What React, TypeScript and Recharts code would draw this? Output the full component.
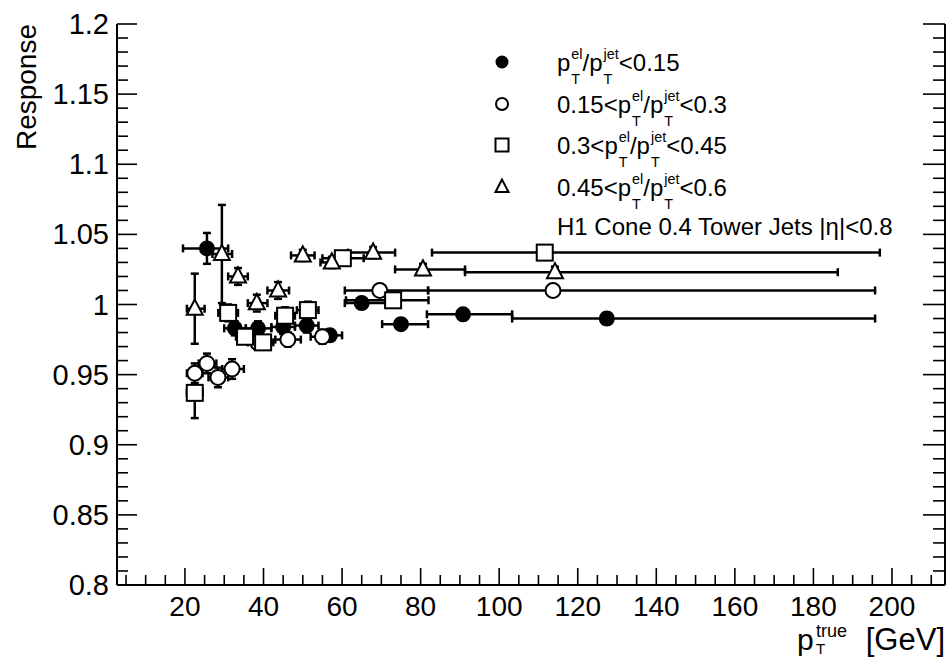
import React from 'react'
import { ScatterChart, Scatter, XAxis, YAxis, ErrorBar, Legend } from 'recharts'

// each point: [pT true, response, pT bin low, pT bin high, response error]
const EL_LT_015 = [
  [25.6, 1.040, 19.5, 31.0, 0.011],
  [32.7, 0.983, 30.0, 35.5, 0.005],
  [38.6, 0.983, 35.5, 42.0, 0.005],
  [45.0, 0.984, 42.0, 48.0, 0.005],
  [51.0, 0.985, 48.0, 54.0, 0.005],
  [56.9, 0.978, 54.0, 60.0, 0.004],
  [65.0, 1.001, 60.7, 71.0, 0.004],
  [75.0, 0.986, 70.2, 81.9, 0.004],
  [90.8, 0.993, 81.6, 103.3, 0.004],
  [127.4, 0.990, 103.3, 195.7, 0.004]
]

const EL_015_03 = [
  [22.5, 0.951, 20.5, 24.5, 0.007],
  [25.6, 0.958, 23.5, 28.0, 0.007],
  [28.4, 0.948, 26.0, 31.0, 0.007],
  [32.0, 0.954, 29.5, 35.0, 0.007],
  [38.5, 0.973, 36.0, 41.0, 0.005],
  [46.2, 0.975, 43.0, 49.5, 0.005],
  [55.0, 0.977, 52.0, 58.0, 0.005],
  [69.6, 1.010, 60.7, 81.9, 0.004],
  [113.7, 1.010, 81.9, 195.7, 0.004]
]

const EL_03_045 = [
  [22.5, 0.937, 20.5, 24.5, 0.018],
  [31.0, 0.994, 28.5, 33.5, 0.006],
  [35.3, 0.977, 33.0, 37.5, 0.005],
  [39.9, 0.973, 37.5, 42.5, 0.005],
  [45.5, 0.992, 43.0, 48.0, 0.006],
  [51.3, 0.996, 48.5, 54.0, 0.006],
  [60.2, 1.033, 55.0, 65.5, 0.004],
  [73.0, 1.003, 61.0, 82.0, 0.004],
  [111.6, 1.037, 82.9, 196.9, 0.004]
]

const EL_045_06 = [
  [22.5, 0.997, 20.5, 25.0, 0.025],
  [29.4, 1.036, 27.0, 32.0, 0.035],
  [33.5, 1.020, 31.0, 36.0, 0.006],
  [38.3, 1.001, 36.0, 41.0, 0.006],
  [43.7, 1.010, 41.0, 46.5, 0.006],
  [50.0, 1.035, 47.0, 53.0, 0.004],
  [57.4, 1.030, 54.5, 60.5, 0.004],
  [67.9, 1.037, 61.5, 73.5, 0.004],
  [80.6, 1.025, 73.5, 91.3, 0.004],
  [114.2, 1.023, 91.3, 186.2, 0.004]
]

const X_LABELS = [20, 40, 60, 80, 100, 120, 140, 160, 180, 200]
const Y_LABELS = [0.8, 0.85, 0.9, 0.95, 1, 1.05, 1.1, 1.15, 1.2]

const X_TICKS: number[] = []
for (let v = 5; v <= 210; v += 5) X_TICKS.push(v)
const Y_TICKS: number[] = []
for (let i = 0; i <= 40; i++) Y_TICKS.push(Math.round((0.8 + i * 0.01) * 100) / 100)

const FONT = '"Liberation Sans", Arial, Helvetica, sans-serif'

const toPoints = (rows: number[][]) =>
  rows.map(([x, y, lo, hi, ey]) => ({ x, y, ex: [x - lo, hi - x], ey }))

const isMajorY = (v: number) => Y_LABELS.some((m) => Math.abs(m - v) < 1e-6)

const BottomTick = (props: any) => {
  const { x, y, payload } = props
  const major = X_LABELS.includes(payload.value)
  return (
    <g>
      <line x1={x} x2={x} y1={y} y2={y - (major ? 17 : 10)} stroke='#000' strokeWidth={1.6} />
      {major ? (
        <text x={x} y={y + 31} textAnchor='middle' fontSize={28} fontFamily={FONT} fill='#000'>
          {payload.value}
        </text>
      ) : null}
    </g>
  )
}

const TopTick = (props: any) => {
  const { x, y, payload } = props
  const major = X_LABELS.includes(payload.value)
  return <line x1={x} x2={x} y1={y} y2={y + (major ? 18 : 10)} stroke='#000' strokeWidth={1.6} />
}

const LeftTick = (props: any) => {
  const { x, y, payload } = props
  const major = isMajorY(payload.value)
  return (
    <g>
      <line x1={x} x2={x + (major ? 20 : 11)} y1={y} y2={y} stroke='#000' strokeWidth={1.6} />
      {major ? (
        <text x={x - 8} y={y + 10} textAnchor='end' fontSize={29} fontFamily={FONT} fill='#000'>
          {String(payload.value)}
        </text>
      ) : null}
    </g>
  )
}

const RightTick = (props: any) => {
  const { x, y, payload } = props
  const major = isMajorY(payload.value)
  return <line x1={x} x2={x - (major ? 22 : 12)} y1={y} y2={y} stroke='#000' strokeWidth={1.6} />
}

const Marker = ({ cx, cy, kind, size = 8 }: any) => {
  if (cx == null || cy == null) return null
  if (kind === 'dot') return <circle cx={cx} cy={cy} r={size} fill='#000' />
  if (kind === 'circle')
    return <circle cx={cx} cy={cy} r={size - 0.5} fill='#fff' stroke='#000' strokeWidth={2} />
  if (kind === 'square')
    return (
      <rect x={cx - size} y={cy - size} width={size * 2} height={size * 2} fill='#fff' stroke='#000' strokeWidth={2} />
    )
  const h = size * 1.9
  return (
    <polygon
      points={`${cx},${cy - h * 0.6} ${cx - size},${cy + h * 0.4} ${cx + size},${cy + h * 0.4}`}
      fill='#fff'
      stroke='#000'
      strokeWidth={2}
    />
  )
}

const SupSub = ({ sup }: { sup: string }) => (
  <span
    style={{
      display: 'inline-flex',
      flexDirection: 'column',
      fontSize: '0.6em',
      verticalAlign: '12px',
      marginLeft: 1,
      color: '#000'
    }}
  >
    <span style={{ lineHeight: '14px' }}>{sup}</span>
    <span style={{ lineHeight: '14px', marginTop: 11 }}>T</span>
  </span>
)

const Ratio = ({ sup }: { sup: string }) => (
  <span>
    p<SupSub sup={sup} />/p<SupSub sup='jet' />
  </span>
)

const LEGEND_ROWS = [
  { kind: 'dot', pre: '', post: '<0.15' },
  { kind: 'circle', pre: '0.15<', post: '<0.3' },
  { kind: 'square', pre: '0.3<', post: '<0.45' },
  { kind: 'triangle', pre: '0.45<', post: '<0.6' }
]

const LegendBox = () => (
  <div style={{ fontFamily: FONT, fontSize: 24, color: '#000', position: 'relative', width: 440 }}>
    {LEGEND_ROWS.map((r, i) => (
      <div key={i} style={{ position: 'absolute', top: i * 41.5, left: 0, height: 42, width: 440 }}>
        <svg width={30} height={42} style={{ position: 'absolute', left: -3, top: 0 }}>
          <Marker cx={15} cy={21} kind={r.kind} size={6.5} />
        </svg>
        <div style={{ position: 'absolute', left: 67, top: 6, whiteSpace: 'nowrap' }}>
          {r.pre}
          <Ratio sup='el' />
          {r.post}
        </div>
      </div>
    ))}
    <div style={{ position: 'absolute', left: 67, top: 4 * 41.5 + 6, whiteSpace: 'nowrap' }}>
      H1 Cone 0.4 Tower Jets |η|&lt;0.8
    </div>
  </div>
)

const XTitle = (props: any) => {
  const vb = props.viewBox || {}
  const right = vb.x + vb.width
  const base = vb.y + 65
  return (
    <g fontFamily={FONT} fill='#000'>
      <text x={right - 148} y={base} fontSize={30}>p</text>
      <text x={right - 129} y={base - 13} fontSize={18}>true</text>
      <text x={right - 129} y={base + 4} fontSize={15}>T</text>
      <text x={right} y={base} fontSize={31} textAnchor='end'>[GeV]</text>
    </g>
  )
}

const YTitle = () => (
  <text
    transform='translate(36, 24) rotate(-90)'
    textAnchor='end'
    fontFamily={FONT}
    fontSize={28}
    fill='#000'
  >
    Response
  </text>
)

const SERIES = [
  { name: 'lt015', rows: EL_LT_015, kind: 'dot' },
  { name: '015_03', rows: EL_015_03, kind: 'circle' },
  { name: '03_045', rows: EL_03_045, kind: 'square' },
  { name: '045_06', rows: EL_045_06, kind: 'triangle' }
]

export default function App() {
  return (
    <div style={{ position: 'absolute', left: 0, top: 0, background: '#fff' }}>
      <ScatterChart width={947} height={658} margin={{ top: 24, right: 0, bottom: 0, left: 0 }}>
        <XAxis
          xAxisId='b'
          type='number'
          dataKey='x'
          domain={[2.7, 213.5]}
          allowDataOverflow
          ticks={X_TICKS}
          interval={0}
          tickSize={0}
          tickMargin={0}
          tick={<BottomTick />}
          height={73}
          axisLine={{ stroke: '#000', strokeWidth: 2 }}
          label={{ content: <XTitle /> }}
        />
        <XAxis
          xAxisId='t'
          orientation='top'
          type='number'
          dataKey='x'
          domain={[2.7, 213.5]}
          allowDataOverflow
          ticks={X_TICKS}
          interval={0}
          tickSize={0}
          tickMargin={0}
          tick={<TopTick />}
          height={0}
          axisLine={{ stroke: '#000', strokeWidth: 2 }}
        />
        <YAxis
          yAxisId='l'
          type='number'
          dataKey='y'
          domain={[0.8, 1.2]}
          allowDataOverflow
          ticks={Y_TICKS}
          interval={0}
          tickSize={0}
          tickMargin={0}
          tick={<LeftTick />}
          width={117}
          axisLine={{ stroke: '#000', strokeWidth: 2 }}
          label={{ content: <YTitle /> }}
        />
        <YAxis
          yAxisId='r'
          orientation='right'
          type='number'
          dataKey='y'
          domain={[0.8, 1.2]}
          allowDataOverflow
          ticks={Y_TICKS}
          interval={0}
          tickSize={0}
          tickMargin={0}
          tick={<RightTick />}
          width={2}
          axisLine={{ stroke: '#000', strokeWidth: 2 }}
        />
        <Legend
          layout='horizontal'
          verticalAlign='middle'
          align='center'
          content={() => <LegendBox />}
          wrapperStyle={{ left: 490, top: 41, width: 440, height: 220 }}
        />
        {SERIES.map((s) => (
          <Scatter
            key={s.name}
            name={s.name}
            data={toPoints(s.rows)}
            xAxisId='b'
            yAxisId='l'
            isAnimationActive={false}
            shape={(p: any) => <Marker cx={p.cx} cy={p.cy} kind={s.kind} />}
          >
            <ErrorBar dataKey='ex' direction='x' width={4} stroke='#000' strokeWidth={2.5} />
            <ErrorBar dataKey='ey' direction='y' width={4} stroke='#000' strokeWidth={2.5} />
          </Scatter>
        ))}
        {SERIES.map((s) => (
          <Scatter
            key={s.name + '_frame'}
            data={toPoints(s.rows)}
            xAxisId='t'
            yAxisId='r'
            isAnimationActive={false}
            shape={() => <g />}
            legendType='none'
          />
        ))}
      </ScatterChart>
    </div>
  )
}
